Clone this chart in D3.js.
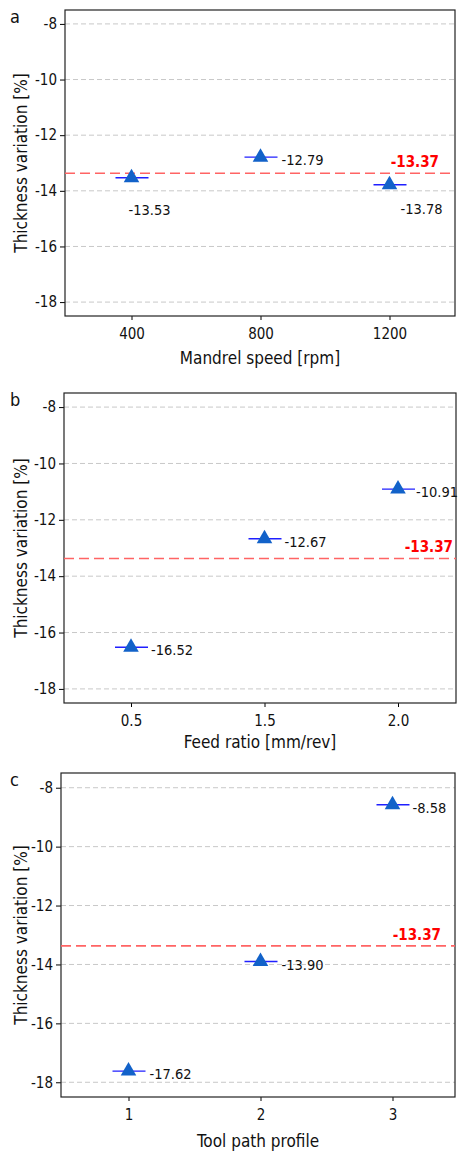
<!DOCTYPE html>
<html lang="en">
<head>
  <meta charset="UTF-8">
  <title>Thickness variation</title>
  <script src="https://d3js.org/d3.v7.min.js"></script>
  <style>
    body { margin: 0; background: #fff; }
    text { font-family: "DejaVu Sans Condensed", "DejaVu Sans", sans-serif; }
  </style>
</head>
<body>
  <svg id="svg" width="460" height="1152"></svg>
  <script>
    // data
    var speedCats = ['400', '800', '1200']
    var speedVals = [-13.53, -12.79, -13.78]
    var feedCats = ['0.5', '1.5', '2.0']
    var feedVals = [-16.52, -12.67, -10.91]
    var pathCats = ['1', '2', '3']
    var pathVals = [-17.62, -13.90, -8.58]
    var meanVal = -13.37
    var yTicks = [-8, -10, -12, -14, -16, -18]
    var letters = ['a', 'b', 'c']
    var xTitles = ['Mandrel speed [rpm]', 'Feed ratio [mm/rev]', 'Tool path profile']
    var yTitle = 'Thickness variation [%]'

    // layout per panel (pixels)
    var panels = [
      { cats: speedCats, vals: speedVals, top: 10, bottom: 316, left: 65, right: 455,
        tick0: 131.5, tick1: 389.5, titleGap: 48, meanEnd: 439,
        lab: [[-3, 37], [21, 8], [11, 29]] },
      { cats: feedCats, vals: feedVals, top: 393, bottom: 703, left: 64, right: 456,
        tick0: 131, tick1: 398, titleGap: 45, meanEnd: 453,
        lab: [[20, 8], [20, 8], [18, 8]] },
      { cats: pathCats, vals: pathVals, top: 773, bottom: 1097, left: 61, right: 455,
        tick0: 128.5, tick1: 392.5, titleGap: 50, meanEnd: 441,
        lab: [[21, 8], [21, 8], [20, 8]] }
    ]

    var svg = d3.select('#svg')

    panels.forEach(function (p, k) {
      var g = svg.append('g')

      var y = d3.scaleLinear().domain([-18.5, -7.5]).range([p.bottom, p.top])
      var x = d3.scalePoint().domain(p.cats).range([p.tick0, p.tick1])

      // grid
      g.selectAll('line.grid')
        .data(yTicks)
        .enter()
        .append('line')
        .attr('class', 'grid')
        .attr('x1', p.left).attr('x2', p.right)
        .attr('y1', d => y(d)).attr('y2', d => y(d))
        .attr('stroke', '#c8c8c8')
        .attr('stroke-dasharray', '5,3')

      // y axis (plain hyphen as in the original)
      var yAxis = d3.axisLeft(y).tickValues(yTicks).tickSize(5).tickPadding(3)
        .tickFormat(d => String(d))
      var ya = g.append('g').attr('transform', 'translate(' + p.left + ',0)').call(yAxis)
      ya.select('.domain').remove()
      ya.selectAll('text').attr('font-size', 15).attr('fill', '#111')
        .style('font-family', '"DejaVu Sans Condensed", sans-serif')

      // x axis
      var xAxis = d3.axisBottom(x).tickSize(4).tickPadding(8)
      var xa = g.append('g').attr('transform', 'translate(0,' + p.bottom + ')').call(xAxis)
      xa.select('.domain').remove()
      xa.selectAll('text').attr('font-size', 15).attr('fill', '#111')
        .style('font-family', '"DejaVu Sans Condensed", sans-serif')

      // frame
      g.append('rect')
        .attr('x', p.left).attr('y', p.top)
        .attr('width', p.right - p.left).attr('height', p.bottom - p.top)
        .attr('fill', 'none').attr('stroke', '#222').attr('stroke-width', 1.2)

      // mean line
      g.append('line')
        .attr('x1', p.left).attr('x2', p.right)
        .attr('y1', y(meanVal)).attr('y2', y(meanVal))
        .attr('stroke', '#ff6464').attr('stroke-width', 1.6)
        .attr('stroke-dasharray', '10,5')
      g.append('text')
        .attr('x', p.meanEnd).attr('y', y(meanVal) - 6)
        .attr('text-anchor', 'end')
        .attr('font-size', 15).attr('font-weight', 'bold')
        .attr('fill', '#ff0000')
        .text(meanVal.toFixed(2))

      var pts = p.cats.map((c, i) => ({ c: c, v: p.vals[i], lab: p.lab[i] }))

      // markers
      g.selectAll('line.bar')
        .data(pts)
        .enter()
        .append('line')
        .attr('x1', d => x(d.c) - 16).attr('x2', d => x(d.c) + 17)
        .attr('y1', d => y(d.v)).attr('y2', d => y(d.v))
        .attr('stroke', '#1f1fff').attr('stroke-width', 1.4)
      g.selectAll('path.tri')
        .data(pts)
        .enter()
        .append('path')
        .attr('d', d3.symbol().type(d3.symbolTriangle).size(105))
        .attr('transform', d => 'translate(' + x(d.c) + ',' + y(d.v) + ')')
        .attr('fill', '#1262c9')

      g.selectAll('text.val')
        .data(pts)
        .enter()
        .append('text')
        .attr('x', d => x(d.c) + d.lab[0])
        .attr('y', d => y(d.v) + d.lab[1])
        .attr('font-size', 14.5).attr('fill', '#111')
        .text(d => d.v.toFixed(2))

      // titles
      g.append('text')
        .attr('x', (p.left + p.right) / 2).attr('y', p.bottom + p.titleGap)
        .attr('text-anchor', 'middle').attr('font-size', 17).attr('fill', '#111')
        .text(xTitles[k])
      g.append('text')
        .attr('transform', 'translate(27,' + (p.top + p.bottom) / 2 + ') rotate(-90)')
        .attr('text-anchor', 'middle').attr('font-size', 17).attr('fill', '#111')
        .text(yTitle)
      g.append('text')
        .attr('x', 10).attr('y', p.top + 13)
        .attr('font-size', 18).attr('fill', '#111')
        .text(letters[k])
    })
  </script>
</body>
</html>
